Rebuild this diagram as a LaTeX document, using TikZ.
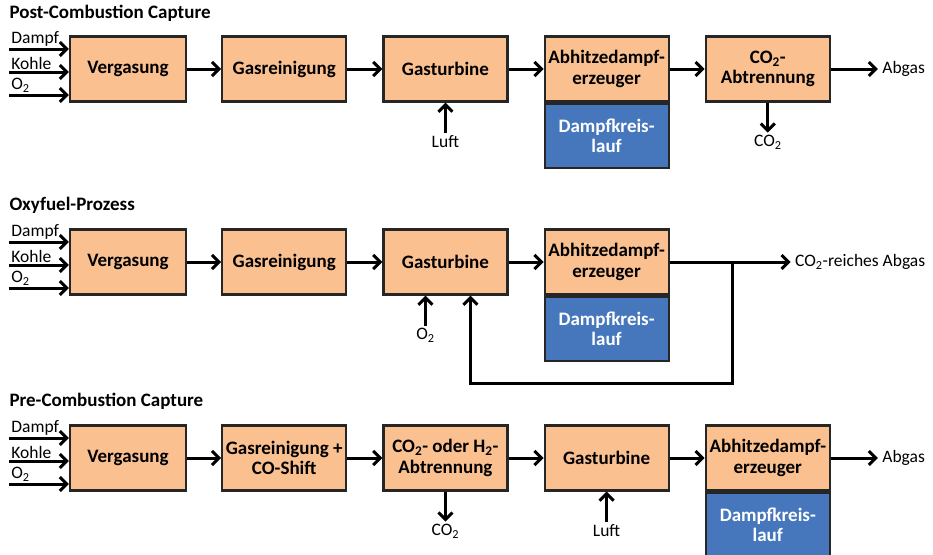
\documentclass[tikz,border=0pt]{standalone}
\usepackage{fontspec}
\setmainfont{Carlito}
\usepackage{xcolor}
\usetikzlibrary{positioning,calc,arrows.meta}

\definecolor{boxorange}{HTML}{FAC090}
\definecolor{boxblue}{HTML}{4677BD}

\begin{document}
\begin{tikzpicture}[x=1pt, y=-1pt, ->, >={Straight Barb[length=7pt,width=14pt]}, line width=3pt, node distance=35pt,
  block/.style={draw=black!85, line width=2.2pt, fill=boxorange, minimum width=124pt, minimum height=65pt,
    inner sep=1pt, align=center, font=\fontsize{19}{20.5}\selectfont\bfseries},
  steam/.style={block, fill=boxblue, text=white, minimum height=64pt},
  title/.style={anchor=base west, inner sep=0pt, font=\fontsize{19}{20}\selectfont\bfseries},
  lbl/.style={inner sep=1pt, font=\fontsize{17.5}{18}\selectfont}]
  \useasboundingbox (0,0) rectangle (933,554);

  % Post-Combustion
  \node[title] (t1) at (8,18) {Post-Combustion Capture};
  \node[block, minimum width=116pt] (verg1) at (128,69) {Vergasung};
  \node[block, right=34pt of verg1] (gas1) {Gasreinigung};
  \node[block, right=of gas1] (turb1) {Gasturbine};
  \node[block, right=of turb1] (hrsg1) {Abhitzedampf-\\erzeuger};
  \node[steam, below=0pt of hrsg1] (kreis1) {Dampfkreis-\\lauf};
  \node[block, right=of hrsg1] (sep1) {CO\textsubscript{2}-\\Abtrennung};
  \node[lbl, inner sep=3pt, right=47pt of sep1] (abgas1) {Abgas};
  \node[lbl, below=30pt of sep1] (co2a) {CO\textsubscript{2}};
  \node[lbl, below=30pt of turb1] (luft1) {Luft};

  \path (verg1) edge (gas1)
        (gas1) edge (turb1)
        (turb1) edge (hrsg1)
        (hrsg1) edge (sep1)
        (sep1) edge (abgas1)
               edge (co2a)
        (luft1) edge (turb1);

  % Oxyfuel
  \node[title] (t2) at (8,210) {Oxyfuel-Prozess};
  \node[block, minimum width=116pt] (verg2) at (128,262) {Vergasung};
  \node[block, right=34pt of verg2] (gas2) {Gasreinigung};
  \node[block, right=of gas2] (turb2) {Gasturbine};
  \node[block, right=of turb2] (hrsg2) {Abhitzedampf-\\erzeuger};
  \node[steam, below=0pt of hrsg2] (kreis2) {Dampfkreis-\\lauf};
  \node[lbl, inner sep=3pt, right=121pt of hrsg2] (rich) {CO\textsubscript{2}-reiches Abgas};
  \node[lbl, below=30pt of turb2, xshift=-20pt] (o2b) {O\textsubscript{2}};
  \coordinate (split) at ($(hrsg2.east)+(63,0)$);

  \path (verg2) edge (gas2)
        (gas2) edge (turb2)
        (turb2) edge (hrsg2)
        (hrsg2) edge (rich)
        (o2b) edge (o2b |- turb2.south);
  \draw (split) -- ++(0,121) -| ([xshift=25pt]turb2.south);

  % Pre-Combustion
  \node[title] (t3) at (8,406) {Pre-Combustion Capture};
  \node[block, minimum width=116pt] (verg3) at (128,458) {Vergasung};
  \node[block, right=34pt of verg3] (gas3) {Gasreinigung +\\CO-Shift};
  \node[block, right=of gas3] (sep3) {CO\textsubscript{2}- oder H\textsubscript{2}-\\Abtrennung};
  \node[block, right=of sep3] (turb3) {Gasturbine};
  \node[block, right=of turb3] (hrsg3) {Abhitzedampf-\\erzeuger};
  \node[steam, below=0pt of hrsg3] (kreis3) {Dampfkreis-\\lauf};
  \node[lbl, inner sep=3pt, right=47pt of hrsg3] (abgas3) {Abgas};
  \node[lbl, below=30pt of sep3] (co2c) {CO\textsubscript{2}};
  \node[lbl, below=30pt of turb3] (luft3) {Luft};

  \path (verg3) edge (gas3)
        (gas3) edge (sep3)
        (sep3) edge (turb3)
               edge (co2c)
        (turb3) edge (hrsg3)
        (hrsg3) edge (abgas3)
        (luft3) edge (turb3);

  % feeds into the gasifiers
  \foreach \r in {1,2,3}
    \foreach \txt/\dy/\k in {Dampf/-20/a, Kohle/3/b, O\textsubscript{2}/26/c}
      \draw ([shift={(-60,\dy)}]verg\r.west) node[lbl, anchor=south west] (in\r\k) {\txt}
        -- ([shift={(0,\dy)}]verg\r.west);
\end{tikzpicture}
\end{document}
